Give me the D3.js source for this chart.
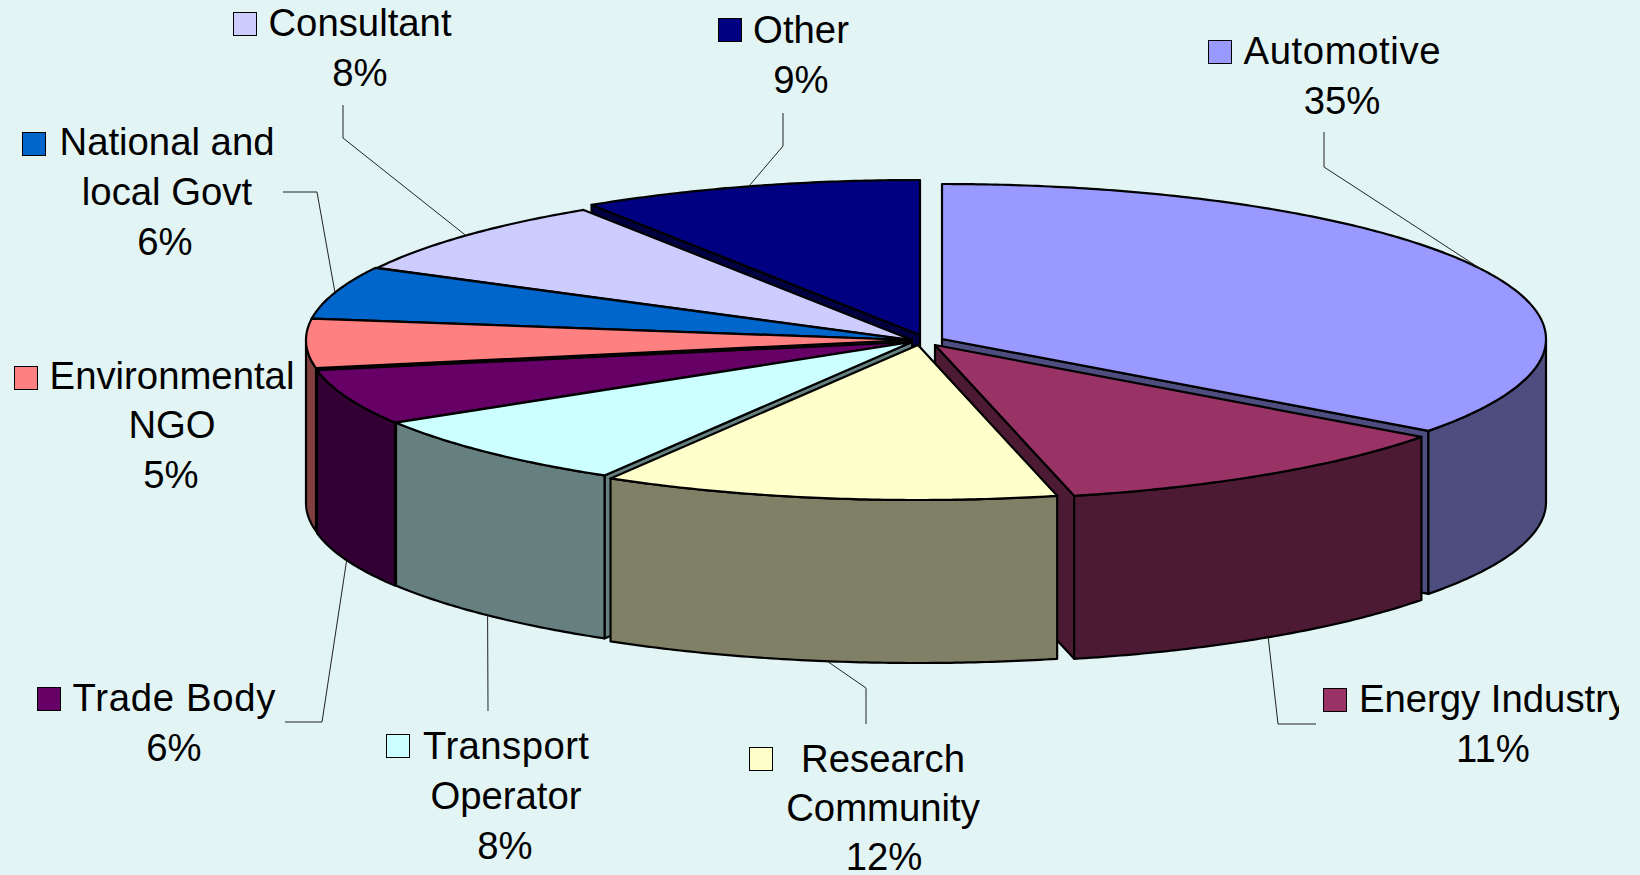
<!DOCTYPE html>
<html><head><meta charset="utf-8">
<script src="https://cdnjs.cloudflare.com/ajax/libs/d3/7.8.5/d3.min.js"></script>
<style>html,body{margin:0;padding:0;background:#e3f4f4;overflow:hidden}svg{display:block}text{font-family:"Liberation Sans",Arial,sans-serif;fill:#000}</style>
</head><body><svg id="c" width="1640" height="875"></svg>
<script>
const categories = ["Automotive","Energy Industry","Research Community","Transport Operator","Trade Body","Environmental NGO","National and local Govt","Consultant","Other"];
const values = [35.1,11.2,12.2,7.8,5.8,5.1,5.5,8.15,9.15];
const colors = ["#9999ff","#993366","#ffffcc","#ccffff","#660066","#ff8080","#0066cc","#ccccff","#000080"];
const labelLines = [["Automotive"],["Energy Industry"],["Research","Community"],["Transport","Operator"],["Trade Body"],["Environmental","NGO"],["National and","local Govt"],["Consultant"],["Other"]];

// layout only
const W=1640,H=875,RX=604,RY=155,DEPTH=163,FS=38.3;
const apexes=[[942,339],[935,345],[918,345],[912,342],[911,342],[910,340],[910,340],[912,340],[920,335]];
const labelX=[1342,1493,883,506,174,172,167,360,801];
const labelY=[[64,114],[712,762],[772,821,870],[759,809,859],[711,761],[389,438,488],[155,205,255],[36,86],[43,93]];
const keyPos=[[1208,40],[1323,688],[749,747],[386,734],[37,687],[14,366],[22,132],[233,12],[718,18]];
const pctX=[1342,1493,884,505,174,171,165,360,801];
const firstLineWidth=[197,null,164,166,203,null,null,null,null];
const elbows=[[[1324,132],[1324,167]],[[1316,724],[1278,724]],[[866,724],[866,688]],[[488,711]],[[285,722],[322,722]],null,[[283,192],[317,192]],[[343,105],[343,138]],[[783,113],[783,146]]];

const svg=d3.select("#c");
svg.append("rect").attr("width",W).attr("height",H).attr("fill","#e3f4f4");
svg.append("clipPath").attr("id","clip").append("rect").attr("width",1619).attr("height",H);

const pie=d3.pie().sort(null).value(d=>d).startAngle(0).endAngle(2*Math.PI);
const arcs=pie(values).map((a,i)=>({...a,i,mid:(a.startAngle+a.endAngle)/2,apex:apexes[i]}));
const xr=d3.scaleLinear().domain([-1,1]).range([-RX,RX]);
const yr=d3.scaleLinear().domain([-1,1]).range([RY,-RY]);
const rim=(d,a,dz=0)=>[d.apex[0]+xr(Math.sin(a)),d.apex[1]+yr(Math.cos(a))+dz];
const line=d3.line();
const sample=(a0,a1)=>{const n=Math.max(2,Math.ceil((a1-a0)/0.01));return d3.range(n+1).map(k=>a0+(a1-a0)*k/n)};
const half=c=>{const r=d3.rgb(c);return d3.rgb(r.r*.5,r.g*.5,r.b*.5).formatHex()};

const order=arcs.slice().sort((p,q)=>Math.cos(q.mid)-Math.cos(p.mid));
const g=svg.append("g").attr("stroke","#000").attr("stroke-width",2.2).attr("stroke-linejoin","round");
order.forEach(d=>{
  const col=colors[d.i],side=half(col),below=[d.apex[0],d.apex[1]+DEPTH];
  // only the radial face that looks towards the viewer is drawn
  const faces=[];
  if(Math.sin(d.startAngle)<-1e-6)faces.push(d.startAngle);
  if(Math.sin(d.endAngle)>1e-6)faces.push(d.endAngle);
  faces.forEach(a=>{
    g.append("path").attr("fill",side).attr("d",line([d.apex,rim(d,a),rim(d,a,DEPTH),below])+"Z");
  });
  const v0=Math.max(d.startAngle,Math.PI/2),v1=Math.min(d.endAngle,3*Math.PI/2);
  if(v1>v0){
    const s=sample(v0,v1);
    g.append("path").attr("fill",side)
     .attr("d",line(s.map(a=>rim(d,a)).concat(s.slice().reverse().map(a=>rim(d,a,DEPTH))))+"Z");
  }
  g.append("path").attr("fill",col)
   .attr("d",line([d.apex].concat(sample(d.startAngle,d.endAngle).map(a=>rim(d,a))))+"Z");
});

// leader lines end on the rim at each slice's middle angle
arcs.forEach(d=>{
  if(!elbows[d.i])return;
  const onFront=Math.cos(d.mid)<0;
  const end=rim(d,d.mid,onFront?DEPTH:0);
  svg.append("path").attr("fill","none").attr("stroke","#222").attr("stroke-width",1)
    .attr("d",line(elbows[d.i].concat([end])));
});

const lab=svg.append("g").attr("clip-path","url(#clip)");
arcs.forEach(d=>{
  const i=d.i,lines=labelLines[i];
  lab.append("rect").attr("x",keyPos[i][0]+.5).attr("y",keyPos[i][1]+.5).attr("width",23).attr("height",23)
    .attr("fill",colors[i]).attr("stroke","#000").attr("stroke-width",1);
  lines.forEach((t,k)=>{
    const el=lab.append("text").attr("x",labelX[i]).attr("y",labelY[i][k]).attr("text-anchor","middle").attr("font-size",FS).text(t);
    if(k===0&&firstLineWidth[i])el.attr("textLength",firstLineWidth[i]);
  });
  lab.append("text").attr("x",pctX[i]).attr("y",labelY[i][lines.length]).attr("text-anchor","middle").attr("font-size",FS)
    .text(d3.format(".0f")(values[i])+"%");
});
</script></body></html>
